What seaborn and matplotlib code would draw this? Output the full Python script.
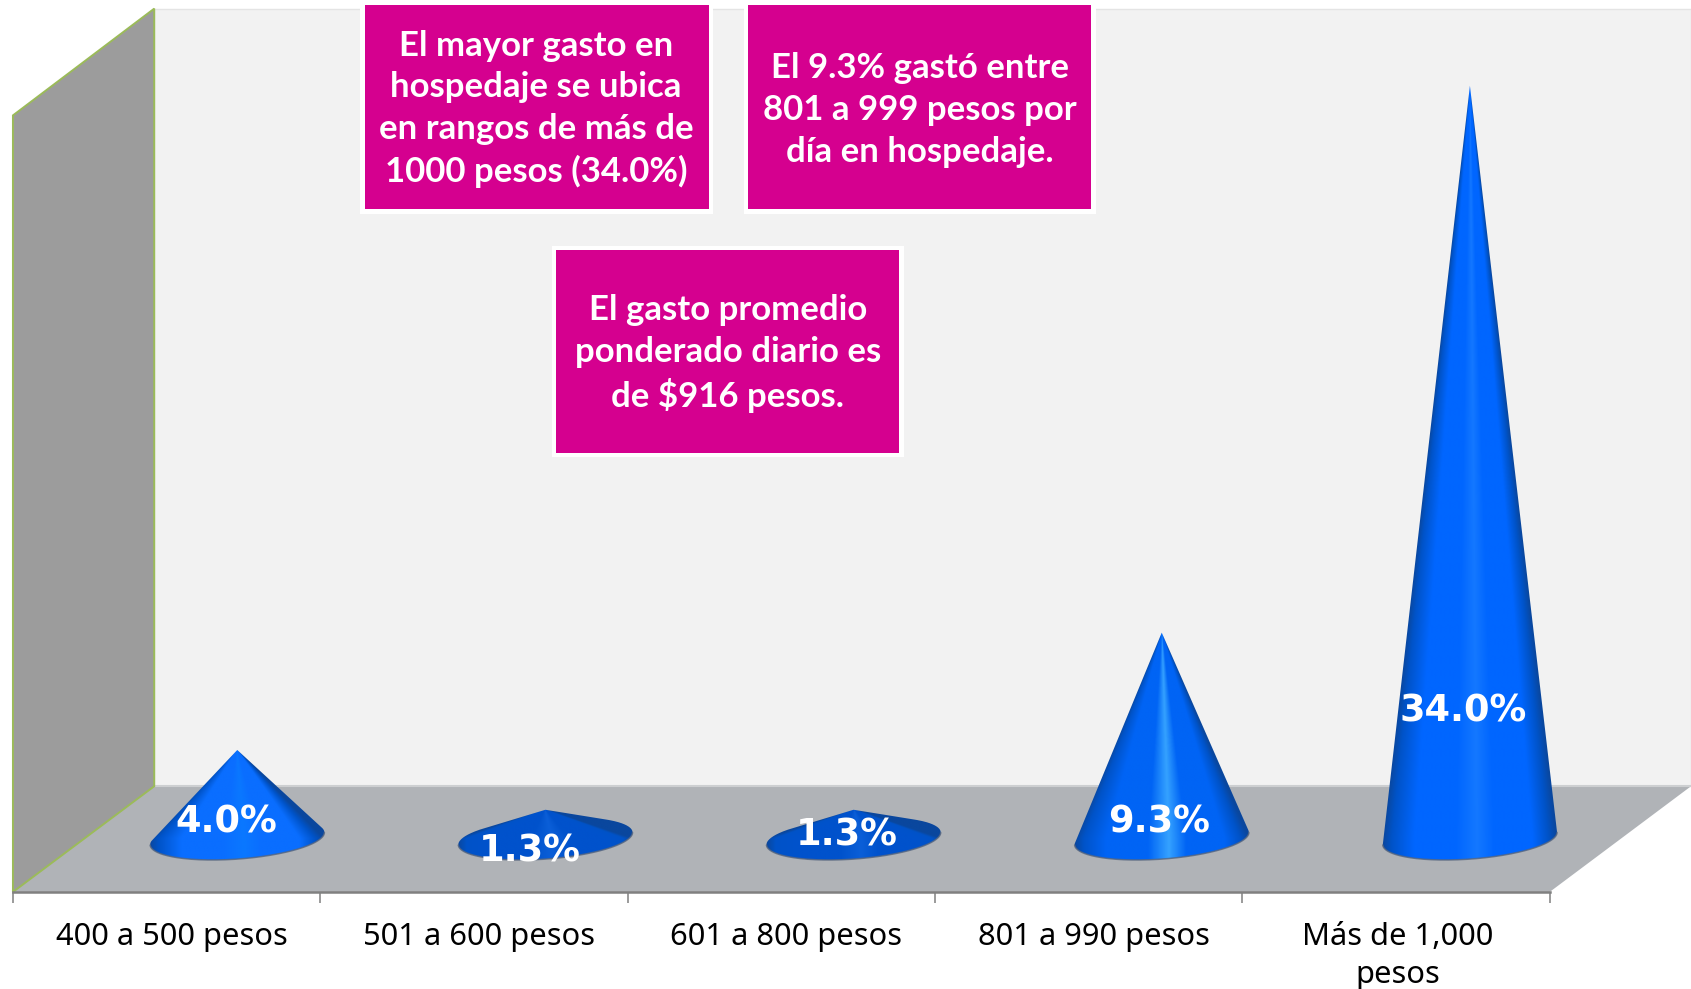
import numpy as np
import pandas as pd
import matplotlib
matplotlib.use("Agg")
import matplotlib.pyplot as plt
import seaborn as sns
from matplotlib.colors import LinearSegmentedColormap
from matplotlib.patches import Polygon, Rectangle
from matplotlib.path import Path
from matplotlib.transforms import Affine2D

categories = ["400 a 500 pesos", "501 a 600 pesos", "601 a 800 pesos", "801 a 990 pesos", "Más de 1,000\npesos"]
values = [4.0, 1.3, 1.3, 9.3, 34.0]
value_labels = ["4.0%", "1.3%", "1.3%", "9.3%", "34.0%"]
notes = [
    "El mayor gasto en\nhospedaje se ubica\nen rangos de más de\n1000 pesos (34.0%)",
    "El 9.3% gastó entre\n801 a 999 pesos por\ndía en hospedaje.",
    "El gasto promedio\nponderado diario es\nde $916 pesos.",
]

# layout, in the coordinates of the picture as shown (1568 x 917)
W, H = 1568.0, 917.0
X0, DX = 220.0, 285.75
Y0, DY = 777.5, 20.53
AXIS_Y = 827.0
note_boxes = [(338, 5, 319, 189), (694, 5, 318, 189), (516, 232, 318, 188)]
note_centres = [(497, 101), (853, 102), (675, 328)]
label_centres = [(210, 762), (491, 789), (785, 774), (1075, 762), (1357, 659)]
cone_mid = ["#0A6EFF", "#0052CC", "#0052CC", "#0064F5", "#0066FF"]
cone_light = ["#0A78FF", "#0B5FD8", "#0B5FD8", "#35A2FF", "#1478FF"]

sns.set_theme(style="white")
fig = plt.figure(figsize=(16.91, 9.89), dpi=100, facecolor="white")
ax = fig.add_axes([0, 1 - AXIS_Y / H, 1, AXIS_Y / H])
ax.patch.set_visible(False)

df = pd.DataFrame({"rango": categories, "pct": values})
sns.barplot(data=df, x="rango", y="pct", order=categories, width=162 / DX,
            color="#0066FF", saturation=1, ax=ax, zorder=1)

S = Affine2D().scale(1 / W, -1 / H).translate(0, 1) + fig.transFigure
GREEN = "#9BBB59"
ax.add_patch(Polygon([(143, 8), (1568, 8), (1568, 729), (143, 729)], fc="#F2F2F2", ec="#E4E4E4", lw=1, transform=S, zorder=0, clip_on=False))
ax.add_patch(Polygon([(12, 827), (143, 729), (1568, 729), (1437, 827)], fc="#B0B3B7", ec="none", transform=S, zorder=0.2, clip_on=False))
ax.add_patch(Polygon([(12, 107), (143, 8), (143, 729), (12, 827)], fc="#9C9C9C", ec=GREEN, lw=1.4, transform=S, zorder=0.3, clip_on=False))
ax.plot([143, 1568], [729, 729], color="#CDCFD1", lw=1.5, transform=S, zorder=0.25)


def to_data(px, py):
    return (np.asarray(px) - X0) / DX, (Y0 - np.asarray(py)) / DY


def hull(points):
    pts = sorted(set(map(tuple, points)))
    def half(seq):
        out = []
        for p in seq:
            while len(out) > 1 and (out[-1][0] - out[-2][0]) * (p[1] - out[-2][1]) - (out[-1][1] - out[-2][1]) * (p[0] - out[-2][0]) <= 0:
                out.pop()
            out.append(p)
        return out[:-1]
    return half(pts) + half(pts[::-1])


A_PX, B_PX, TILT = 81.0, 19.0, np.deg2rad(4.25)
theta = np.linspace(0, 2 * np.pi, 361)[:-1]
bars = [p for p in ax.patches if isinstance(p, Rectangle)][:len(values)]
for bar, mid, light in zip(bars, cone_mid, cone_light):
    bar.set_alpha(0)
    cx = bar.get_x() + bar.get_width() / 2
    height = bar.get_height()
    cpx = X0 + cx * DX
    ex = cpx + A_PX * np.cos(theta) * np.cos(TILT) + B_PX * np.sin(theta) * np.sin(TILT)
    ey = Y0 - A_PX * np.cos(theta) * np.sin(TILT) + B_PX * np.sin(theta) * np.cos(TILT)
    dx_e, dy_e = to_data(ex, ey)
    outline = hull(np.column_stack([dx_e, dy_e]).tolist() + [(cx, height)])
    clip = Path(np.array(outline + [outline[0]]))
    half_w = bar.get_width() / 2
    low = dy_e.min()
    xs = np.linspace(cx - half_w * 1.03, cx + half_w * 1.03, 500)
    ys = np.linspace(low, max(height, dy_e.max()), 700)
    gx, gy = np.meshgrid(xs, ys)
    frac = np.clip((height - gy) / height, 0.02, 1)
    u = np.clip((gx - cx) / (half_w * frac), -1, 1)
    cmap = LinearSegmentedColormap.from_list("cone", [
        (0.0, "#0A479E"), (0.05, "#0053C8"), (0.18, mid), (0.42, mid), (0.54, light),
        (0.64, mid), (0.86, mid), (0.95, "#0053C8"), (1.0, "#0A479E")])
    im = ax.imshow((u + 1) / 2, extent=(xs[0], xs[-1], ys[0], ys[-1]), origin="lower",
                   cmap=cmap, vmin=0, vmax=1, aspect="auto", interpolation="bilinear", zorder=2)
    im.set_clip_path(clip, ax.transData)
    front = (np.sin(theta) > 0)
    order = np.argsort(theta[front])
    ax.plot(dx_e[front][order], dy_e[front][order], color="#55657F", lw=1.1, alpha=0.8, zorder=2.5)

for text, centre in zip(value_labels, label_centres):
    ax.text(centre[0], centre[1], text, transform=S, ha="center", va="center", color="white",
            fontsize=26.5, fontweight="bold", family="DejaVu Sans", zorder=6)

for (x, y, w, h), text, centre in zip(note_boxes, notes, note_centres):
    ax.add_patch(Rectangle((x - 4, y - 4), w + 8, h + 8, fc="white", ec="none", transform=S, zorder=6.9, clip_on=False))
    ax.add_patch(Rectangle((x, y), w, h, fc="#D5008F", ec="none", transform=S, zorder=7, clip_on=False))
    ax.text(centre[0], centre[1], text, transform=S, ha="center", va="center", color="white",
            fontsize=25, fontweight="bold", family="Lato", linespacing=1.37, zorder=8)

# axis
ax.set_xlim((0 - X0) / DX, (W - X0) / DX)
ax.set_ylim((Y0 - AXIS_Y) / DY, Y0 / DY)
edges = [(px - X0) / DX for px in (12, 297, 582, 867, 1152, 1437)]
label_pos = [(px - X0) / DX for px in (159, 444, 729, 1014, 1296)]
ax.set_xticks(edges, [""] * len(edges))
ax.set_xticks(label_pos, categories, minor=True)
ax.tick_params(axis="x", which="major", bottom=True, length=8, width=1.2, color="#8A8A8A", direction="out")
ax.tick_params(axis="x", which="minor", bottom=False, length=0, pad=21.5, labelsize=22.2, labelcolor="black")
for lab in ax.get_xticklabels(minor=True):
    lab.set_family("Noto Sans")
    lab.set_linespacing(1.36)
ax.set_xlabel("")
ax.set_ylabel("")
ax.yaxis.set_visible(False)
for name in ("top", "left", "right"):
    ax.spines[name].set_visible(False)
ax.spines["bottom"].set_bounds(edges[0], edges[-1])
ax.spines["bottom"].set_color("#808080")
ax.spines["bottom"].set_linewidth(1.8)
ax.grid(False)

fig.savefig("out.png", dpi=100)
